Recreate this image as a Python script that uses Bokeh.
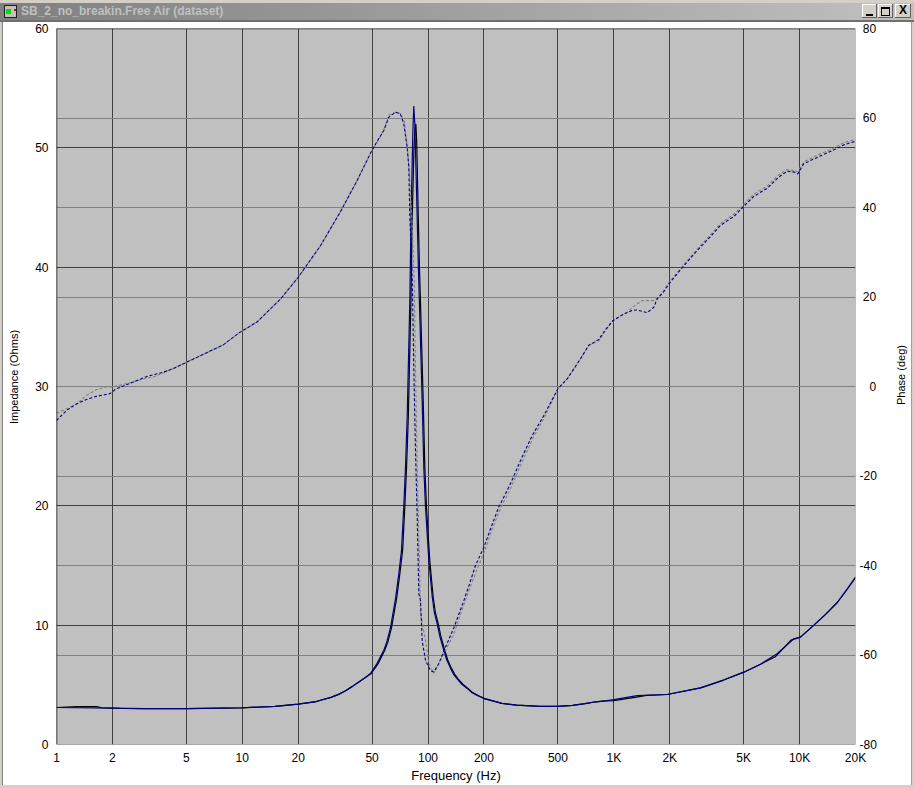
from bokeh.embed import file_html
from bokeh.resources import INLINE
from bokeh.plotting import figure
from bokeh.layouts import column
from bokeh.models import (Range1d, LinearAxis, FixedTicker, Grid, Span, Div)

FREQ_TICKS = [1, 2, 5, 10, 20, 50, 100, 200, 500, 1000, 2000, 5000, 10000, 20000]
FREQ_LABELS = ["1", "2", "5", "10", "20", "50", "100", "200", "500", "1K", "2K", "5K", "10K", "20K"]
Z_TICKS = [0, 10, 20, 30, 40, 50, 60]
PHASE_TICKS = [-80, -60, -40, -20, 0, 20, 40, 60, 80]
PHASE_LABELS = ["-80", "-60", "-40", "-20", "\u00a0\u20070", "\u00a020", "\u00a040", "\u00a060", "\u00a080"]
TITLE = "SB_2_no_breakin.Free Air (dataset)"

z_blue_f = [1, 2, 3, 5, 10, 15, 20, 25, 30, 33, 36, 39, 42, 45, 49, 53.2, 57.8, 60, 62.8, 66.8, 69.6, 72, 74, 75.6, 77.2, 79.8, 81, 82.8, 83.8, 84.9, 85.6, 87.4, 88.7, 89.8, 93, 94.9, 96.9, 101, 105.3, 108, 112, 116, 121.6, 126, 132, 137, 143.5, 152, 162.5, 172, 184, 200, 217, 250, 300, 400, 500, 600, 700, 800, 900, 1000, 1336, 1937, 2931, 3900, 5012, 6200, 7568, 9311, 10110, 11940, 13800, 15960, 18000, 20000]
z_blue = [3.1, 3.05, 3.0, 3.0, 3.08, 3.2, 3.38, 3.6, 3.95, 4.2, 4.5, 4.85, 5.2, 5.5, 5.95, 6.8, 7.9, 8.6, 9.8, 12.2, 14.3, 16.3, 19.9, 23.2, 27.4, 37.2, 44.2, 51.2, 53.5, 52, 49.8, 44.2, 40, 37.2, 28.8, 23.2, 19.9, 15.4, 12.4, 11.1, 10.1, 9.0, 7.9, 7.1, 6.4, 5.9, 5.5, 5.05, 4.7, 4.35, 4.1, 3.85, 3.7, 3.45, 3.3, 3.2, 3.2, 3.28, 3.42, 3.58, 3.65, 3.76, 4.1, 4.19, 4.75, 5.4, 6.06, 6.75, 7.6, 8.86, 9.0, 10.0, 10.9, 11.9, 13.0, 14.0]

z_black_f = [1, 1.3, 1.65, 1.75, 2.2, 3, 5, 10, 15, 20, 25, 30, 33, 36, 39, 42, 45, 49.5, 54, 58.5, 60.8, 63.6, 67.7, 70.5, 73, 75, 76.6, 78.3, 80.9, 82.2, 84, 85, 86, 86.9, 88.6, 89.9, 91, 94.2, 96.1, 98.1, 102.2, 106.5, 109.4, 113.5, 117.5, 123, 127.5, 133.5, 139, 145, 154, 164, 174, 186, 200, 219, 250, 300, 400, 500, 600, 700, 800, 900, 1000, 1300, 1500, 1937, 2931, 3900, 5012, 6200, 7400, 9000, 10110, 11940, 13800, 15960, 18000, 20000]
z_black = [3.1, 3.18, 3.18, 3.08, 3.02, 3.0, 3.0, 3.07, 3.2, 3.38, 3.6, 3.95, 4.2, 4.5, 4.85, 5.2, 5.5, 5.95, 6.8, 7.9, 8.6, 9.8, 12.2, 14.3, 16.3, 19.9, 23.2, 27.4, 37.2, 44.2, 50, 51.5, 52, 50.5, 44.2, 40, 37.2, 28.8, 23.2, 19.9, 15.4, 12.4, 11.1, 10.1, 9.0, 7.9, 7.1, 6.4, 5.9, 5.5, 5.05, 4.7, 4.35, 4.1, 3.87, 3.7, 3.45, 3.3, 3.2, 3.2, 3.28, 3.42, 3.58, 3.65, 3.68, 3.95, 4.12, 4.19, 4.75, 5.4, 6.06, 6.75, 7.35, 8.75, 9.0, 10.0, 10.9, 11.9, 13.0, 14.0]

phase_blue_f = [1, 1.13, 1.28, 1.45, 1.64, 1.94, 2.1, 2.59, 3.05, 3.75, 4.25, 5, 6.4, 7.9, 9.7, 12, 16.1, 20, 26.4, 33.7, 41.5, 49.8, 54.3, 57.8, 61.5, 66.8, 71, 74, 77.2, 78.8, 79.8, 82.2, 83.8, 84.5, 85.6, 87.4, 89.2, 91.1, 93, 96.9, 103, 107.4, 114, 124, 138, 156, 166, 180, 200, 217, 240, 278, 315, 363, 420, 500, 561, 662, 733, 830, 902, 988, 1110, 1256, 1336, 1513, 1642, 1712, 1858, 1977, 2382, 2812, 3313, 3750, 4426, 4943, 5672, 6698, 7727, 8570, 9397, 9780, 10540, 12440, 15000, 17300, 20000]
phase_blue = [-7.6, -5.4, -3.9, -2.9, -2.2, -1.6, -0.5, 1, 2.2, 3.2, 4, 5.4, 7.5, 9.3, 12.1, 14.4, 19.6, 24.4, 31.5, 39, 46, 52.7, 55.4, 57.2, 60.2, 61.3, 60.9, 58.7, 53.5, 49, 37.8, 24.4, 4.3, -3.1, -14.3, -29, -46.3, -47.8, -56.8, -61.2, -63.5, -63.8, -62, -58.3, -53.8, -47.8, -44.5, -40, -35.9, -31.8, -27, -21.7, -16.5, -11, -6.5, -0.5, 1.7, 6.2, 9.2, 10.5, 12.7, 14.7, 16, 17, 17.1, 16.5, 17.7, 19.6, 21.2, 22.9, 27, 30.4, 33.5, 36, 38, 40, 42.5, 44.3, 46.8, 48.1, 47.9, 47.5, 49.8, 51.2, 52.7, 54, 54.8]

phase_gray_f = [1, 1.13, 1.28, 1.45, 1.64, 1.85, 2.0, 2.2, 2.59, 3.05, 3.3, 3.75, 4.25, 5, 6.4, 7.9, 9.7, 12, 16.1, 20, 26.4, 33.7, 41.5, 49.8, 54.3, 57.8, 61.5, 66.8, 71, 74.5, 77.6, 79.5, 82, 84.2, 85.6, 87.4, 89.2, 91.1, 96.9, 101, 107.4, 119, 138, 150, 159, 168, 183, 203, 220, 244, 282, 320, 368, 425, 500, 561, 662, 733, 830, 902, 988, 1110, 1200, 1282, 1422, 1642, 1730, 1858, 1977, 2382, 2812, 3313, 3750, 4426, 4943, 5672, 6698, 7727, 8570, 9397, 9780, 10540, 12440, 15000, 17300, 20000]
phase_gray = [-6, -5, -3.9, -2, -0.7, -0.1, -0.1, 0.3, 1, 1.9, 2.1, 3.0, 4, 5.4, 7.5, 9.3, 12.1, 14.4, 19.6, 24.4, 31.5, 39, 46, 52.7, 55.2, 57.4, 60.6, 61.3, 61, 59.2, 53, 47, 37, 24, 4.2, -18, -32.8, -50.7, -56.8, -61.9, -64.1, -60.5, -55.2, -50.7, -47.8, -45, -41, -36.5, -32.2, -27.5, -22.2, -17, -11.4, -6.8, -0.5, 1.7, 6.2, 9.2, 10.2, 12.5, 14.7, 16, 16.8, 17.9, 19.2, 19.2, 19.8, 21.4, 23.2, 27.3, 30.7, 33.9, 36.4, 38.5, 40.4, 43, 44.8, 47.3, 48.5, 48.2, 48, 50.2, 51.7, 53.1, 54.5, 55.2]

W, H = 914, 788
FL, FT, FW, FH = 56, 28, 799, 716
FONT = "Liberation Sans"

p = figure(width=W, height=H, x_axis_type="log", x_range=Range1d(1, 20000), y_range=Range1d(0, 60),
           frame_width=FW, frame_height=FH, min_border_left=FL, min_border_right=W - FL - FW,
           min_border_top=FT, min_border_bottom=H - FT - FH, toolbar_location=None, output_backend="svg",
           border_fill_color="#FFFFFF")
p.background_fill_color = "#C0C0C0"
p.outline_line_color = None
p.extra_y_ranges = {"phase": Range1d(-80, 80)}

xa = p.xaxis[0]
xa.ticker = FixedTicker(ticks=FREQ_TICKS)
xa.major_label_overrides = dict(zip(FREQ_TICKS, FREQ_LABELS))
xa.axis_label = "Frequency (Hz)"

ya = p.yaxis[0]
ya.ticker = FixedTicker(ticks=Z_TICKS)

ra = LinearAxis(y_range_name="phase", ticker=FixedTicker(ticks=PHASE_TICKS),
                major_label_overrides=dict(zip(PHASE_TICKS, PHASE_LABELS)))
p.add_layout(ra, "right")

for ax in (xa, ya, ra):
    ax.axis_line_color = None
    ax.major_tick_line_color = None
    ax.minor_tick_line_color = None
    ax.major_tick_out = 0
    ax.major_tick_in = 0
    ax.minor_tick_out = 0
    ax.minor_tick_in = 0
    ax.major_label_text_font = FONT
    ax.major_label_text_font_size = "12px"
    ax.major_label_text_color = "#000000"
xa.axis_label_text_font = FONT
xa.axis_label_text_font_size = "13px"
xa.axis_label_text_font_style = "normal"
xa.axis_label_text_color = "#000000"
xa.major_label_standoff = 6
ya.major_label_standoff = 8
ra.major_label_standoff = 4
xa.axis_label_standoff = 0

p.xgrid.visible = False
p.ygrid.visible = False
p.add_layout(Grid(dimension=0, ticker=FixedTicker(ticks=FREQ_TICKS[1:-1]), axis=xa, grid_line_color="#404040", grid_line_width=1))
p.add_layout(Grid(dimension=1, ticker=FixedTicker(ticks=Z_TICKS[1:-1]), axis=ya, grid_line_color="#404040", grid_line_width=1))
p.add_layout(Grid(dimension=1, ticker=FixedTicker(ticks=PHASE_TICKS[1:-1]), axis=ra, y_range_name="phase", grid_line_color="#808080", grid_line_width=1))

# curves
p.line(z_black_f, z_black, line_color="#000000", line_width=1.2)
p.line(z_blue_f, z_blue, line_color="#000080", line_width=1.2)
p.line(phase_gray_f, phase_gray, y_range_name="phase", line_color="#808080", line_width=1.1, line_dash="3 2")
p.line(phase_blue_f, phase_blue, y_range_name="phase", line_color="#000080", line_width=1.1, line_dash="3 2")

# frame edges
p.add_layout(Span(location=1, dimension="height", line_color="#101010", line_width=1.5))
p.add_layout(Span(location=60, dimension="width", line_color="#202020", line_width=1.5))
p.add_layout(Span(location=20000, dimension="height", line_color="#A0A0A0", line_width=1))
p.add_layout(Span(location=0, dimension="width", line_color="#707070", line_width=1))


def box(x0, y0, x1, y1, bg, inner=""):
    return (f'<div style="position:absolute;left:{x0}px;top:{y0}px;width:{x1 - x0}px;height:{y1 - y0}px;'
            f'background:{bg};">{inner}</div>')


parts = [
    box(0, 0, W, 3, "#D4D0C8"),
    box(0, 3, W, 20, "linear-gradient(to right,#808080,#C0C0C0)"),
    box(0, 20, W, 22, "#707070"),
    box(0, 22, 2, H, "#D4D0C8"),
    box(2, 22, 3, H, "#808080"),
    box(912, 22, W, H, "#D4D0C8"),
    box(911, 22, 912, 786, "#A0A0A0"),
    box(0, 785, W, H, "#D4D0C8"),
    box(4, 5, 17, 18, "#202020"),
    box(5, 6, 16, 17, "#C0C0C0"),
    box(6, 9, 11, 14, "#00E000"),
    box(14, 9, 16, 11, "#E00000"),
]
for x0, x1 in ((862, 877), (878, 893), (895, 911)):
    parts += [box(x0, 4, x1, 18, "#606060"), box(x0, 4, x1 - 1, 17, "#FFFFFF"), box(x0 + 1, 5, x1 - 1, 17, "#D4D0C8")]
parts += [box(866, 14, 873, 16, "#000000"), box(881, 7, 890, 16, "#000000"), box(882, 9, 889, 15, "#D4D0C8")]
parts.append(f'<div style="position:absolute;left:895px;top:4px;width:16px;height:13px;text-align:center;'
             f'font:bold 12px/13px \'{FONT}\';color:#000;">X</div>')
parts.append(f'<div style="position:absolute;left:21px;top:3px;height:17px;white-space:nowrap;'
             f'font:bold 12px/17px \'{FONT}\';color:#C0C0C0;">{TITLE}</div>')
for text, cx, cy in (("Impedance (Ohms)", 14, 377), ("Phase (deg)", 901, 375)):
    parts.append(f'<div style="position:absolute;left:{cx}px;top:{cy}px;white-space:nowrap;color:#000;'
                 f'font:11px/13px \'{FONT}\';transform:translate(-50%,-50%) rotate(-90deg);">{text}</div>')

chrome = Div(text="".join(parts), width=W, height=H, margin=0,
             styles={"position": "absolute", "left": "0px", "top": "0px", "pointer-events": "none", "z-index": "10"})

root = column(p, chrome, width=W, height=H,
              styles={"position": "absolute", "left": "0px", "top": "0px"})
open("out.html", "w").write(file_html(root, INLINE))
